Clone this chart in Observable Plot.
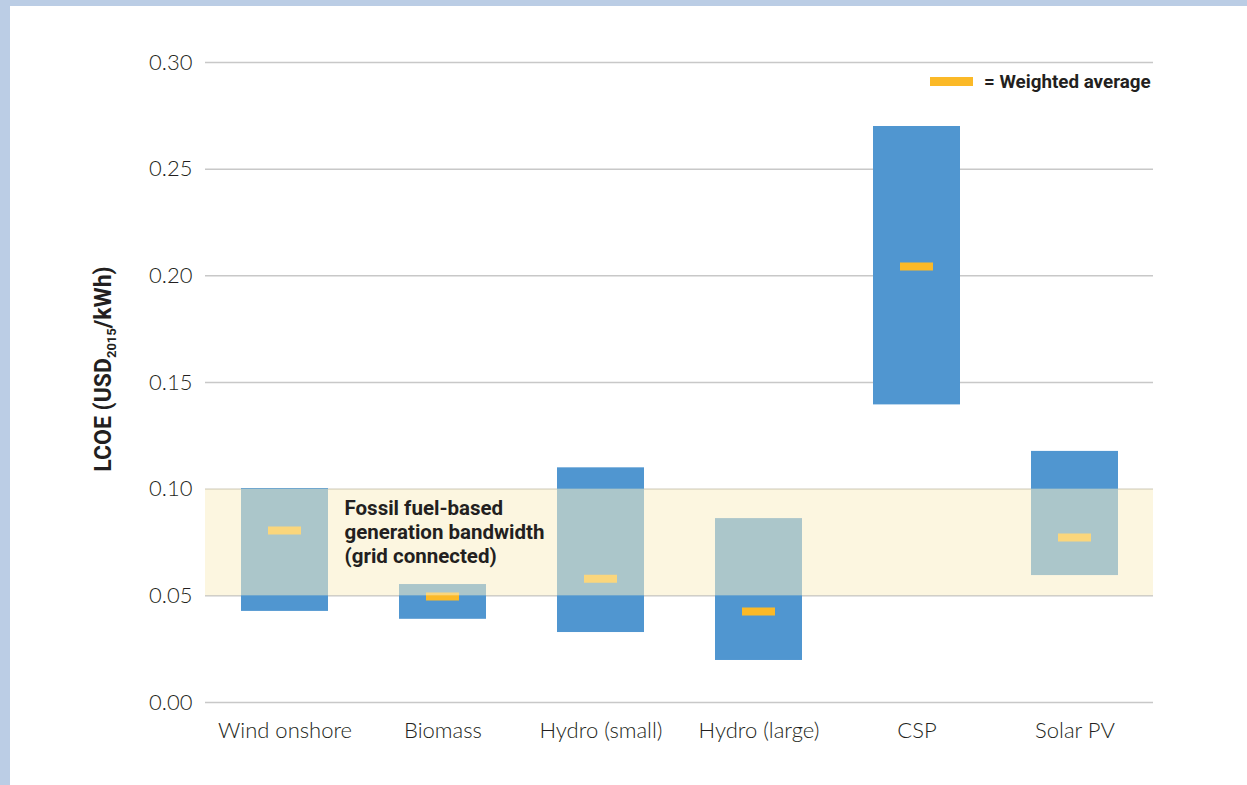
<!DOCTYPE html>
<html>
<head>
<meta charset="utf-8">
<script src="https://cdn.jsdelivr.net/npm/d3@7"></script>
<script src="https://cdn.jsdelivr.net/npm/@observablehq/plot@0.6"></script>
<style>
  html, body { margin: 0; padding: 0; }
  body { width: 1247px; height: 785px; background: #BBCDE5; overflow: hidden; position: relative; }
  #panel { position: absolute; left: 10px; top: 6px; width: 1237px; height: 779px; background: #ffffff; }
</style>
</head>
<body>
<div id="panel"></div>
<script>
// ---- data ----
const technologies = ["Wind onshore", "Biomass", "Hydro (small)", "Hydro (large)", "CSP", "Solar PV"];
const lcoeLow      = [0.0427, 0.0390, 0.0328, 0.0197, 0.1395, 0.0595];
const lcoeHigh     = [0.1003, 0.0553, 0.1100, 0.0862, 0.2700, 0.1177];
const weightedAvg  = [0.0806, 0.0497, 0.0580, 0.0427, 0.2044, 0.0773];
const fossilBand   = [0.05, 0.10];
const yTicks       = [0, 0.05, 0.10, 0.15, 0.20, 0.25, 0.30];
const bandLabel    = "Fossil fuel-based\ngeneration bandwidth\n(grid connected)";
const legendLabel  = "= Weighted average";

const rows = technologies.map((t, i) => ({tech: t, low: lcoeLow[i], high: lcoeHigh[i], avg: weightedAvg[i]}));

const BLUE = "#5096D0";
const ORANGE = "#FBB927";
const TEXT = "#231F20";

const chart = Plot.plot({
  width: 1237,
  height: 779,
  marginLeft: 195,
  marginRight: 94,
  marginTop: 56,
  marginBottom: 83,
  style: {fontFamily: "Lato, 'Open Sans', sans-serif", fontSize: "22px", color: TEXT, background: "transparent", fontWeight: 300},
  x: {domain: technologies, paddingInner: 0.45, paddingOuter: 0.225, label: null, tickSize: 0, tickPadding: 20},
  y: {domain: [0, 0.30], ticks: yTicks, tickFormat: d3.format(".2f"), label: null, tickSize: 0, tickPadding: 13},
  marks: [
    Plot.ruleY(yTicks, {stroke: "#c8c8c8", strokeWidth: 1.5}),
    Plot.barY(rows, {x: "tech", y1: "low", y2: "high", fill: BLUE}),
    Plot.tickY(rows, {x: "tech", y: "avg", stroke: ORANGE, strokeWidth: 8, insetLeft: 27, insetRight: 27}),
    Plot.barY([{lo: fossilBand[0], hi: fossilBand[1]}], {y1: "lo", y2: "hi", fill: "rgb(249,238,198)", fillOpacity: 0.54}),
    Plot.text([bandLabel], {
      text: d => d, frameAnchor: "top-left", textAnchor: "start", lineAnchor: "top",
      dx: 139, dy: 435, fontSize: 20.5, fontWeight: 700, lineHeight: 1.18,
      fill: TEXT, fontFamily: "Roboto, sans-serif"
    })
  ]
});

document.getElementById("panel").appendChild(chart);

const svg = d3.select(chart);

// y-axis title with subscript
const yt = svg.append("text")
  .attr("transform", "translate(101,363) rotate(-90)")
  .attr("text-anchor", "middle")
  .attr("font-family", "Roboto, sans-serif")
  .attr("font-weight", 700)
  .attr("font-size", 23)
  .attr("fill", TEXT);
yt.append("tspan").text("LCOE (USD");
yt.append("tspan").attr("font-size", 13).attr("dy", 5).text("2015");
yt.append("tspan").attr("dy", -5).text("/kWh)");

// legend
svg.append("rect").attr("x", 920).attr("y", 71).attr("width", 43).attr("height", 9).attr("fill", ORANGE);
svg.append("text").attr("x", 974).attr("y", 82)
  .attr("text-anchor", "start")
  .attr("font-family", "Roboto, sans-serif").attr("font-weight", 700).attr("font-size", 18.8)
  .attr("fill", TEXT).text(legendLabel);
</script>
</body>
</html>
